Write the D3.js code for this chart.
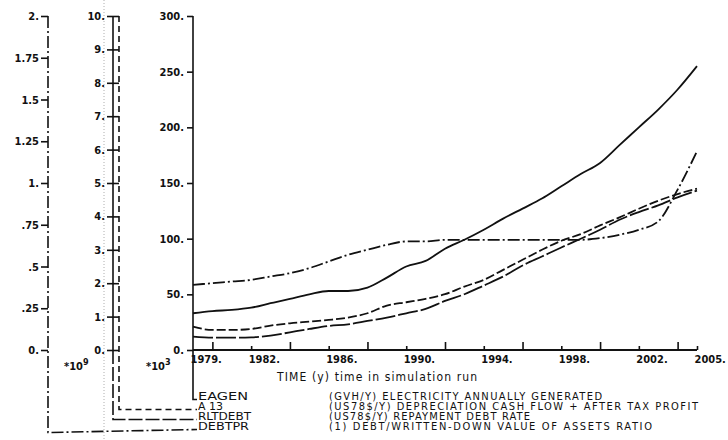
<!DOCTYPE html>
<html>
<head>
<meta charset="utf-8">
<script src="https://cdn.jsdelivr.net/npm/d3@7/dist/d3.min.js"></script>
<style>
  body { margin: 0; background: #fff; }
  svg { display: block; }
  text { font-family: "Liberation Sans Narrow", "DejaVu Sans Condensed", "Liberation Sans", sans-serif; fill: #111; }
</style>
</head>
<body>
<div id="chart"></div>
<script>
// simulation years
const years = [1979, 1980, 1981, 1982, 1983, 1984, 1985, 1986, 1987, 1988, 1989, 1990, 1991,
  1992, 1993, 1994, 1995, 1996, 1997, 1998, 1999, 2000, 2001, 2002, 2003, 2004, 2005]
// EAGEN (GWH/Y), scale 0..300
const eagen = [33, 35, 36, 38, 42, 46, 50, 53, 53, 56, 65, 75, 80, 91, 99, 108, 118, 127, 136,
  147, 158, 168, 184, 200, 216, 234, 255]
// A13 (US78$/Y) x10^3, scale 0..10
const a13 = [0.70, 0.60, 0.60, 0.63, 0.73, 0.80, 0.85, 0.90, 0.97, 1.10, 1.33, 1.43, 1.53, 1.67,
  1.90, 2.10, 2.40, 2.70, 3.00, 3.27, 3.47, 3.73, 3.97, 4.23, 4.47, 4.67, 4.83]
// RLTDEBT (US78$/Y) x10^3, scale 0..10
const rltdebt = [0.40, 0.37, 0.37, 0.38, 0.43, 0.53, 0.63, 0.72, 0.77, 0.87, 0.97, 1.10, 1.23,
  1.47, 1.67, 1.93, 2.20, 2.53, 2.80, 3.07, 3.33, 3.60, 3.90, 4.13, 4.33, 4.57, 4.77]
// DEBTPR (1), scale 0..2
const debtpr = [0.39, 0.40, 0.41, 0.42, 0.44, 0.46, 0.49, 0.53, 0.57, 0.60, 0.63, 0.65, 0.65,
  0.66, 0.66, 0.66, 0.66, 0.66, 0.66, 0.66, 0.66, 0.67, 0.69, 0.72, 0.77, 0.96, 1.19]

// tick labels
const mainTicks = [0, 50, 100, 150, 200, 250, 300]
const mainLabels = ['0.', '50.', '100.', '150.', '200.', '250.', '300.']
const kTicks = [0, 1, 2, 3, 4, 5, 6, 7, 8, 9, 10]
const kLabels = ['0.', '1.', '2.', '3.', '4.', '5.', '6.', '7.', '8.', '9.', '10.']
const gTicks = [0, 0.25, 0.5, 0.75, 1, 1.25, 1.5, 1.75, 2]
const gLabels = ['0.', '.25', '.5', '.75', '1.', '1.25', '1.5', '1.75', '2.']
const yearLabels = [1979, 1982, 1986, 1990, 1994, 1998, 2002, 2005]
const bigTicks = [1980, 1984, 1988, 1992, 1996, 2000, 2004]
const smallTicks = [1982, 1986, 1990, 1994, 1998, 2002, 2005]

// legend
const legendNames = ['EAGEN', 'A 13', 'RLTDEBT', 'DEBTPR']
const legendDesc = [
  '(GVH/Y) ELECTRICITY ANNUALLY GENERATED',
  '(US78$/Y) DEPRECIATION CASH FLOW + AFTER TAX PROFIT',
  '(US78$/Y) REPAYMENT DEBT RATE',
  '(1) DEBT/WRITTEN-DOWN VALUE OF ASSETS RATIO'
]

const width = 728
const height = 440
const svg = d3.select('#chart').append('svg')
    .attr('width', width)
    .attr('height', height)
    .attr('viewBox', `0 0 ${width} ${height}`)

const ink = '#111'
const x = d3.scaleLinear().domain([1979, 2005]).range([193, 697])
const yMain = d3.scaleLinear().domain([0, 300]).range([350, 16])
const yK = d3.scaleLinear().domain([0, 10]).range([350, 16])
const yG = d3.scaleLinear().domain([0, 2]).range([350, 16])

// faint fold line of the scan
svg.append('line')
    .attr('x1', 104).attr('x2', 104).attr('y1', 0).attr('y2', height)
    .attr('stroke', '#999').attr('stroke-width', 0.8).attr('stroke-dasharray', '1,2')

// legend rows (baseline y) and leader lines
const rowY = [399.5, 409.5, 419.5, 429.5]
const leaders = [
  {pts: [[193, 350], [193, rowY[0]], [197, rowY[0]]], dash: null},
  {pts: [[119, 16], [119, rowY[1]], [197, rowY[1]]], dash: '6,4'},
  {pts: [[113, 350], [113, rowY[2]], [197, rowY[2]]], dash: '14,3'},
  {pts: [[48, 16], [48, rowY[3] + 3], [197, rowY[3]]], dash: '12,3,2,3'}
]
svg.append('g').selectAll('path')
    .data(leaders)
    .join('path')
    .attr('d', d => d3.line()(d.pts))
    .attr('fill', 'none')
    .attr('stroke', ink)
    .attr('stroke-width', 1.6)
    .attr('stroke-dasharray', d => d.dash)

const nameLen = [50, 25, 53, 51]
const descLen = [273, 369, 201, 323]
const legend = svg.append('g').attr('font-size', 11)
legend.selectAll('text.name')
    .data(legendNames)
    .join('text')
    .attr('class', 'name')
    .attr('x', 198)
    .attr('y', (d, i) => rowY[i])
    .attr('textLength', (d, i) => nameLen[i])
    .attr('lengthAdjust', 'spacingAndGlyphs')
    .text(d => d)
legend.selectAll('text.desc')
    .data(legendDesc)
    .join('text')
    .attr('class', 'desc')
    .attr('x', 329)
    .attr('y', (d, i) => rowY[i])
    .attr('textLength', (d, i) => descLen[i])
    .attr('lengthAdjust', 'spacing')
    .text(d => d)

// main axis 0..300
const gMain = svg.append('g')
    .attr('transform', 'translate(193,0)')
    .call(d3.axisLeft(yMain).tickValues(mainTicks)
        .tickFormat((d, i) => mainLabels[i]).tickSize(6).tickPadding(3))
gMain.select('.domain').attr('d', 'M0,16V350')

// x10^3 axis with crossing ticks
const gK = svg.append('g')
    .attr('transform', 'translate(113,0)')
    .call(d3.axisLeft(yK).tickValues(kTicks)
        .tickFormat((d, i) => kLabels[i]).tickSize(6).tickPadding(2))
gK.select('.domain').attr('d', 'M0,16V350')
gK.selectAll('.tick line').attr('x1', 6).attr('x2', -6)
gK.selectAll('.tick text').attr('x', -8)

// x10^9 axis
const gG = svg.append('g')
    .attr('transform', 'translate(48,0)')
    .call(d3.axisLeft(yG).tickValues(gTicks)
        .tickFormat((d, i) => gLabels[i]).tickSize(7).tickPadding(2))
gG.select('.domain').remove()

// time axis
const gX = svg.append('g').attr('transform', 'translate(0,350)')
gX.append('g').call(d3.axisTop(x).tickValues(bigTicks).tickSize(8).tickFormat(''))
gX.append('g').call(d3.axisTop(x).tickValues(smallTicks).tickSize(4).tickFormat(''))
gX.append('g').call(d3.axisBottom(x).tickValues(yearLabels).tickSize(0).tickPadding(5)
    .tickFormat(d => d + '.'))
gX.selectAll('.domain').attr('d', 'M193,0H697')
gX.selectAll('text').attr('text-anchor', 'start').attr('dx', -3)

svg.selectAll('.tick text')
    .attr('font-size', 11)
    .attr('font-weight', 'bold')
    .attr('font-family', null)
    .attr('fill', ink)
svg.selectAll('.domain, .tick line').attr('stroke', ink).attr('stroke-width', 1.6)

// multipliers
const mult = svg.append('g').attr('font-size', 11).attr('font-weight', 'bold')
const m9 = mult.append('text').attr('x', 64).attr('y', 370)
m9.append('tspan').text('*10')
m9.append('tspan').attr('dy', -5).attr('font-size', 9).text('9')
const m3 = mult.append('text').attr('x', 146).attr('y', 370)
m3.append('tspan').text('*10')
m3.append('tspan').attr('dy', -5).attr('font-size', 9).text('3')

svg.append('text')
    .attr('x', 277).attr('y', 381)
    .attr('font-size', 12)
    .attr('textLength', 200)
    .attr('lengthAdjust', 'spacing')
    .text('TIME (y) time in simulation run')

// curves
const series = [
  {values: eagen, y: yMain, dash: null},
  {values: a13, y: yK, dash: '9,3'},
  {values: rltdebt, y: yK, dash: '20,3'},
  {values: debtpr, y: yG, dash: '12,3,2,3'}
]
svg.append('g').selectAll('path')
    .data(series)
    .join('path')
    .attr('d', s => d3.line()
        .x((d, i) => x(years[i]))
        .y(d => s.y(d))
        .curve(d3.curveMonotoneX)(s.values))
    .attr('fill', 'none')
    .attr('stroke', ink)
    .attr('stroke-width', 1.8)
    .attr('stroke-dasharray', s => s.dash)
</script>
</body>
</html>
